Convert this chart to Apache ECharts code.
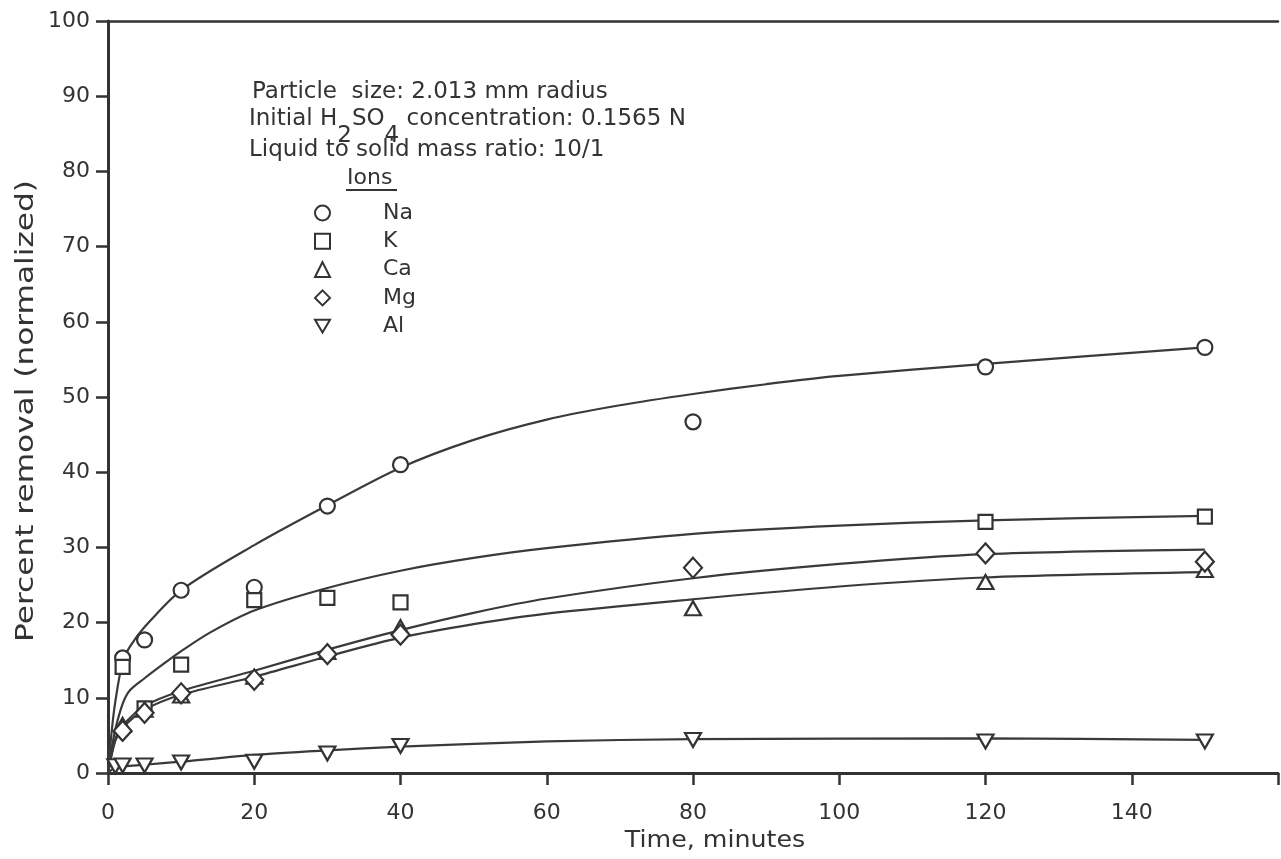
<!DOCTYPE html>
<html><head><meta charset="utf-8">
<script src="https://cdn.jsdelivr.net/npm/echarts@6/dist/echarts.min.js"></script>
<style>html,body{margin:0;padding:0;background:#fff}#c{width:1281px;height:859px}</style>
</head><body><div id="c"></div>
<script>
// Tick labels
const xTicks = [0, 20, 40, 60, 80, 100, 120, 140];
const yTicks = [0, 10, 20, 30, 40, 50, 60, 70, 80, 90, 100];
const ions = ['Na', 'K', 'Ca', 'Mg', 'Al'];

// Measured points [time (min), percent removal]
const naPoints = [[2,15.3],[5,17.7],[10,24.3],[20,24.7],[30,35.5],[40,41.0],[80,46.7],[120,54.0],[150,56.6]];
const kPoints  = [[2,14.1],[5,8.6],[10,14.4],[20,23.0],[30,23.3],[40,22.7],[120,33.4],[150,34.1]];
const caPoints = [[2,6.4],[5,8.4],[10,10.3],[20,12.8],[30,16.1],[40,19.4],[80,21.9],[120,25.4],[150,27.0]];
const mgPoints = [[2,5.6],[5,8.0],[10,10.6],[20,12.4],[30,15.8],[40,18.4],[80,27.3],[120,29.2],[150,28.1]];
const alPoints = [[1,0.9],[2,1.0],[5,1.0],[10,1.4],[20,1.5],[30,2.6],[40,3.6],[80,4.4],[120,4.2],[150,4.2]];

// Fitted curves
const naCurve = [[0,0],[0.5,5.5],[1,9.5],[2,14.8],[3,16.8],[5,19.4],[10,24.3],[20,30.3],[30,35.6],[40,40.6],[50,44.3],[60,47.0],[70,48.9],[80,50.4],[90,51.7],[100,52.8],[120,54.4],[150,56.6]];
const kCurve  = [[0,0],[0.5,3.2],[1,5.8],[2,9.2],[3,11.0],[5,12.6],[8,14.8],[10,16.2],[14,18.7],[20,21.6],[30,24.6],[40,26.9],[50,28.6],[60,29.9],[80,31.8],[100,32.9],[120,33.6],[150,34.2]];
const mgCurve = [[0,0],[1,4.5],[2,6.3],[5,8.9],[10,10.9],[20,13.6],[30,16.4],[40,19.0],[50,21.3],[60,23.2],[80,25.9],[100,27.8],[120,29.1],[150,29.7]];
const caCurve = [[0,0],[1,4.3],[2,6.0],[5,8.4],[10,10.4],[20,12.8],[30,15.5],[40,18.0],[50,19.8],[60,21.2],[80,23.1],[100,24.8],[120,26.0],[150,26.7]];
const alCurve = [[0,0],[1,0.7],[5,1.1],[10,1.5],[20,2.4],[30,3.0],[40,3.5],[60,4.2],[80,4.5],[120,4.6],[150,4.4]];

// Annotation text
const noteLine1 = 'Particle  size: 2.013 mm radius';
const noteLine2 = [['Initial H', 0], ['2', 1], ['SO', 0], ['4', 1], [' concentration: 0.1565 N', 0]];
const noteLine3 = 'Liquid to solid mass ratio: 10/1';

const ink = '#333';
const FONT = 'DejaVu Sans';
const NOTE_FONT = '23px "DejaVu Sans"';
const downTri = 'path://M0,0L20,0L10,17Z';
const symbols = ['circle', 'rect', 'triangle', 'diamond', downTri];
const sizes = [15, 14, [16, 14], [18, 20], [16, 14]];
const pointSets = [naPoints, kPoints, caPoints, mgPoints, alPoints];
const curveSets = [naCurve, kCurve, caCurve, mgCurve, alCurve];

const series = [];
curveSets.forEach((c, i) => {
  series.push({
    name: ions[i] + ' fit', type: 'line', data: c, smooth: 0.3,
    showSymbol: false, silent: true, z: 2,
    lineStyle: { color: '#3a3a3a', width: 2.2 }
  });
});
pointSets.forEach((p, i) => {
  series.push({
    name: ions[i], type: 'scatter', data: p, symbol: symbols[i], symbolSize: sizes[i], z: 5,
    itemStyle: { color: '#fff', borderColor: ink, borderWidth: 2.2, opacity: 1 }
  });
});

// Second note line with subscripts, laid out with measured widths
const mctx = document.createElement('canvas').getContext('2d');
mctx.font = NOTE_FONT;
const subGraphics = [];
let cx = 249;
noteLine2.forEach(([t, isSub]) => {
  subGraphics.push({ type: 'text', x: cx, y: isSub ? 136 : 119,
    style: { text: t, font: NOTE_FONT, fill: ink, verticalAlign: 'middle' } });
  cx += mctx.measureText(t).width;
});

const chart = echarts.init(document.getElementById('c'), null, { renderer: 'canvas' });
chart.setOption({
  backgroundColor: '#fff',
  animation: false,
  grid: { left: 108, right: -3, top: 21, bottom: 86, containLabel: false },
  xAxis: [{
    type: 'value', min: 0, max: 160, interval: 20,
    axisLine: { lineStyle: { color: ink, width: 3 } },
    axisTick: { length: 12, lineStyle: { color: ink, width: 2.5 } },
    axisLabel: { margin: 29, fontFamily: FONT, fontSize: 22, color: ink,
      formatter: v => xTicks.includes(v) ? String(v) : '' },
    splitLine: { show: false }
  }, {
    type: 'value', position: 'top', min: 0, max: 160,
    axisLine: { show: true, lineStyle: { color: ink, width: 2.5 } },
    axisTick: { show: false }, axisLabel: { show: false }, splitLine: { show: false }
  }],
  yAxis: {
    type: 'value', min: 0, max: 100, interval: 10,
    axisLine: { lineStyle: { color: ink, width: 3 } },
    axisTick: { length: 12, lineStyle: { color: ink, width: 2.5 } },
    axisLabel: { margin: 18, fontFamily: FONT, fontSize: 22, color: ink,
      formatter: v => yTicks.includes(v) ? String(v) : '' },
    splitLine: { show: false }
  },
  legend: {
    data: ions, orient: 'vertical', left: 309, top: 197,
    itemWidth: 15, itemHeight: 15, itemGap: 6.3,
    textStyle: { fontFamily: FONT, fontSize: 22, color: ink, padding: [0, 0, 0, 48] }
  },
  graphic: [
    { type: 'text', x: 27, y: 411, rotation: Math.PI / 2, scaleX: 1.3,
      style: { text: 'Percent removal (normalized)', font: '24px "DejaVu Sans"', fill: ink, align: 'center', verticalAlign: 'middle' } },
    { type: 'text', x: 715, y: 841, scaleX: 1.1,
      style: { text: 'Time, minutes', font: '23px "DejaVu Sans"', fill: ink, align: 'center', verticalAlign: 'middle' } },
    { type: 'text', x: 252, y: 92, style: { text: noteLine1, font: NOTE_FONT, fill: ink, verticalAlign: 'middle' } },
    ...subGraphics,
    { type: 'text', x: 249, y: 150, style: { text: noteLine3, font: NOTE_FONT, fill: ink, verticalAlign: 'middle' } },
    { type: 'text', x: 347, y: 178, style: { text: 'Ions', font: '22px "DejaVu Sans"', fill: ink, verticalAlign: 'middle' } },
    { type: 'line', shape: { x1: 346, y1: 190, x2: 397, y2: 190 }, style: { stroke: ink, lineWidth: 2 } }
  ],
  series: series
});
</script>
</body></html>
